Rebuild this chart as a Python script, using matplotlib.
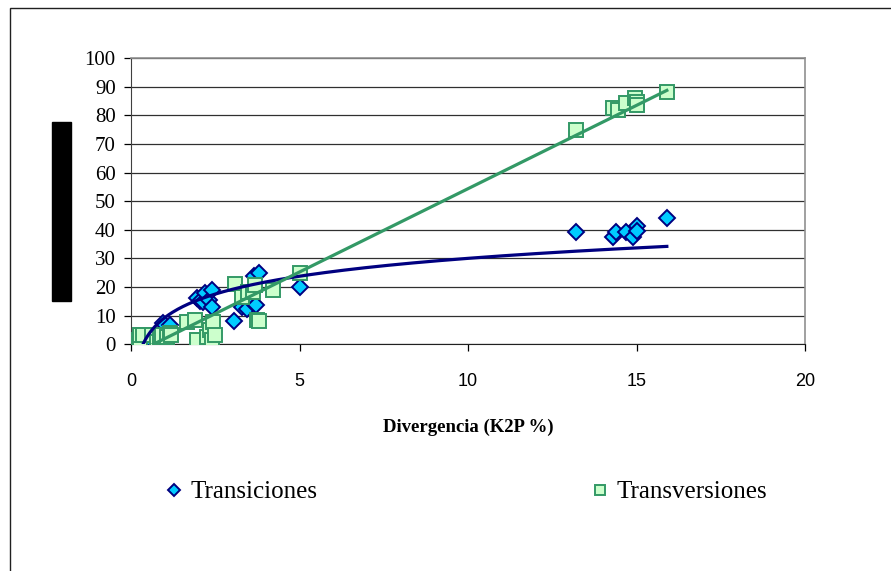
import numpy as np
import matplotlib
matplotlib.use("Agg")
import matplotlib.pyplot as plt
from matplotlib.patches import Rectangle

# transiciones (rombos)
ts_x = [0.35, 0.95, 1.15, 1.95, 2.05, 2.15, 2.2, 2.3, 2.4, 2.4, 3.05, 3.3, 3.45, 3.6,
        3.65, 3.7, 3.8, 5.0, 13.2, 14.3, 14.4, 14.7, 14.9, 15.0, 15.0, 15.9]
ts_y = [0.5, 7.3, 6.6, 16.0, 15.0, 14.7, 17.8, 15.4, 18.9, 13.0, 8.0, 13.0, 12.5, 14.7,
        24.0, 13.6, 24.8, 20.0, 39.2, 37.5, 39.2, 39.2, 37.5, 41.3, 39.5, 44.0]

# transversiones (cuadrados)
tv_x = [0.05, 0.12, 0.2, 0.27, 0.27, 0.36, 0.62, 0.77, 0.86, 0.92, 1.07, 1.07, 1.16, 1.2,
        1.66, 1.9, 1.96, 2.25, 2.34, 2.4, 2.43, 2.5, 3.09, 3.3, 3.47, 3.62, 3.68, 3.74,
        3.8, 4.2, 5.0, 13.2, 14.3, 14.45, 14.7, 14.95, 15.0, 15.0, 15.9]
tv_y = [0.4, 0.5, 1.5, 0.0, 3.2, 3.2, 3.2, 0.8, 2.5, 3.2, 1.5, 2.5, 3.9, 3.2,
        7.8, 8.5, 1.5, 2.5, 5.0, 1.5, 7.8, 3.2, 21.0, 16.5, 18.3, 18.3, 20.7, 8.5,
        8.0, 19.0, 25.0, 75.0, 82.6, 82.0, 84.3, 86.0, 84.7, 83.7, 88.0]

# lineas de tendencia: logaritmica (transiciones) y lineal (transversiones)
log_a, log_b = 9.0, 9.3
lin_m, lin_c = 5.82, -3.85

navy = "#000080"
cyan = "#00CCFF"
green = "#339966"
light_green = "#CCFFCC"

fig = plt.figure(figsize=(8.91, 5.71), dpi=100)
ax = fig.add_axes([131 / 891, 1 - 344.3 / 571, (805 - 131) / 891, (344.3 - 58) / 571])

ax.plot(ts_x, ts_y, "D", ms=8.5, mfc=cyan, mec=navy, mew=1.4, label="Transiciones", zorder=3)
ax.plot(tv_x, tv_y, "s", ms=9.5, mfc=light_green, mec=green, mew=1.4, label="Transversiones", zorder=4)

xl = np.linspace(min(ts_x), max(ts_x), 300)
ax.plot(xl, log_a * np.log(xl) + log_b, color=navy, lw=2.3, zorder=5)
xs = np.linspace(min(tv_x), max(tv_x), 50)
ax.plot(xs, lin_m * xs + lin_c, color=green, lw=2.3, zorder=5)

ax.set_xlim(0, 20)
ax.set_ylim(0, 100)
ax.set_xticks(range(0, 21, 5))
ax.set_yticks(range(0, 101, 10))
ax.grid(axis="y", color="#303030", lw=0.9)
ax.set_axisbelow(True)

for s in ["top", "right"]:
    ax.spines[s].set_color("#909090")
    ax.spines[s].set_linewidth(1.2)
ax.spines["left"].set_color("#404040")
ax.spines["bottom"].set_color("#202020")

ax.tick_params(axis="y", length=5, width=0.9, pad=6, labelsize=15)
ax.tick_params(axis="x", length=5, width=0.9, pad=16, labelsize=13)
for lb in ax.get_yticklabels():
    lb.set_family("Liberation Serif")
for lb in ax.get_xticklabels():
    lb.set_family("Liberation Sans")

ax.set_xlabel("Divergencia (K2P %)", family="Liberation Serif", fontweight="bold",
              fontsize=13.5, labelpad=20)

fig.legend(loc="center", bbox_to_anchor=(465.5 / 891, 1 - 492 / 571), ncol=2, frameon=False,
           markerscale=0.75, handlelength=0.8, handletextpad=0.25, columnspacing=10.9,
           prop={"family": "Liberation Serif", "size": 18})

# marco exterior y barra negra a la izquierda
fig.patches.append(Rectangle((10 / 891, -0.1), 1.1, 1.1 - 8 / 571, transform=fig.transFigure,
                             fill=False, ec="#202020", lw=1.0))
fig.patches.append(Rectangle((52 / 891, 1 - 301 / 571), 19 / 891, 179 / 571,
                             transform=fig.transFigure, color="black"))

fig.savefig("out.png", dpi=100)
